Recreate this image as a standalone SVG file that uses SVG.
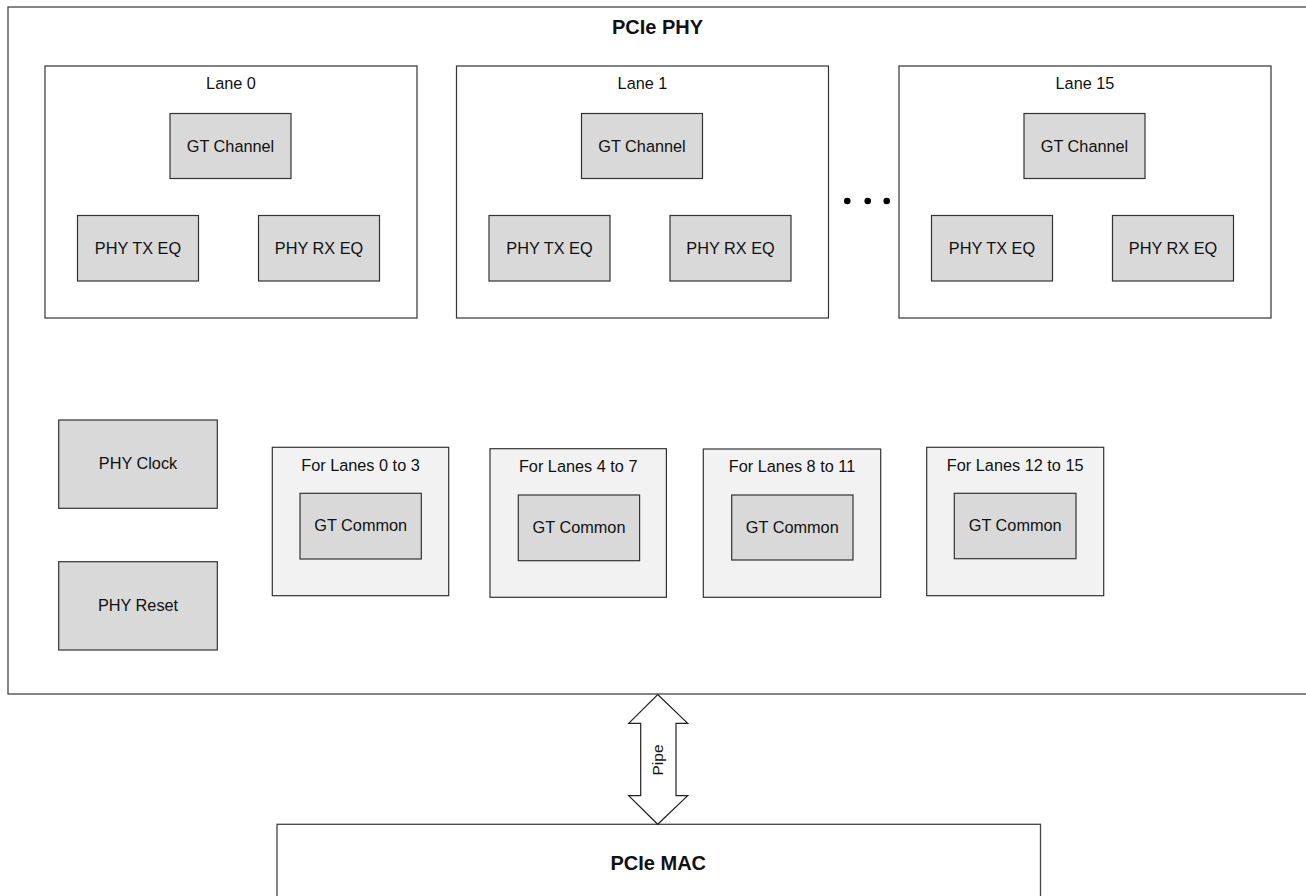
<svg xmlns="http://www.w3.org/2000/svg" width="1306" height="896" viewBox="0 0 1306 896">
<style>
  .outer { fill: #ffffff; stroke: #444444; stroke-width: 1.3; }
  .lane { fill: #ffffff; stroke: #333333; stroke-width: 1.2; }
  .blk { fill: #d9d9d9; stroke: #333333; stroke-width: 1.2; }
  .grp { fill: #f2f2f2; stroke: #333333; stroke-width: 1.2; }
  text { font-family: "Liberation Sans", Arial, sans-serif; fill: #111111; }
  .lbl { font-size: 16.3px; text-anchor: middle; }
  .ttl { font-size: 20px; font-weight: bold; text-anchor: middle; }
  .dot { fill: #000000; }
  .arrow { fill: #ffffff; stroke: #222222; stroke-width: 1.2; stroke-linejoin: miter; }
</style>

<g id="pcie_phy">
  <rect class="outer" x="8" y="7" width="1310" height="687"/>
  <text class="ttl" x="657.5" y="34">PCIe PHY</text>
</g>

<g id="lane0">
  <rect class="lane" x="45" y="66" width="372" height="252"/>
  <text class="lbl" x="231" y="89">Lane 0</text>
</g>
<g id="lane0_gtch">
  <rect class="blk" x="170" y="113.5" width="121" height="65"/>
  <text class="lbl" x="230.5" y="151.5">GT Channel</text>
</g>
<g id="lane0_tx">
  <rect class="blk" x="77.5" y="215.5" width="121" height="65.5"/>
  <text class="lbl" x="138" y="253.5">PHY TX EQ</text>
</g>
<g id="lane0_rx">
  <rect class="blk" x="258.5" y="215.5" width="121" height="65.5"/>
  <text class="lbl" x="319" y="253.5">PHY RX EQ</text>
</g>

<g id="lane1">
  <rect class="lane" x="456.5" y="66" width="372" height="252"/>
  <text class="lbl" x="642.5" y="89">Lane 1</text>
</g>
<g id="lane1_gtch">
  <rect class="blk" x="581.5" y="113.5" width="121" height="65"/>
  <text class="lbl" x="642" y="151.5">GT Channel</text>
</g>
<g id="lane1_tx">
  <rect class="blk" x="489" y="215.5" width="121" height="65.5"/>
  <text class="lbl" x="549.5" y="253.5">PHY TX EQ</text>
</g>
<g id="lane1_rx">
  <rect class="blk" x="670" y="215.5" width="121" height="65.5"/>
  <text class="lbl" x="730.5" y="253.5">PHY RX EQ</text>
</g>

<g id="ellipsis">
  <circle class="dot" cx="847.3" cy="201" r="3.3"/>
  <circle class="dot" cx="867.7" cy="201" r="3.3"/>
  <circle class="dot" cx="886.7" cy="201" r="3.3"/>
</g>

<g id="lane15">
  <rect class="lane" x="899" y="66" width="372" height="252"/>
  <text class="lbl" x="1085" y="89">Lane 15</text>
</g>
<g id="lane15_gtch">
  <rect class="blk" x="1024" y="113.5" width="121" height="65"/>
  <text class="lbl" x="1084.5" y="151.5">GT Channel</text>
</g>
<g id="lane15_tx">
  <rect class="blk" x="931.5" y="215.5" width="121" height="65.5"/>
  <text class="lbl" x="992" y="253.5">PHY TX EQ</text>
</g>
<g id="lane15_rx">
  <rect class="blk" x="1112.5" y="215.5" width="121" height="65.5"/>
  <text class="lbl" x="1173" y="253.5">PHY RX EQ</text>
</g>

<g id="phy_clock">
  <rect class="blk" x="58.7" y="420" width="158.6" height="88.3"/>
  <text class="lbl" x="138" y="469">PHY Clock</text>
</g>
<g id="phy_reset">
  <rect class="blk" x="58.7" y="561.7" width="158.6" height="88.3"/>
  <text class="lbl" x="138" y="610.7">PHY Reset</text>
</g>

<g id="grp0">
  <rect class="grp" x="272.3" y="447.3" width="176.4" height="148.4"/>
  <text class="lbl" x="360.5" y="470.7">For Lanes 0 to 3</text>
</g>
<g id="grp0_gtc">
  <rect class="blk" x="300" y="493.3" width="121.3" height="65.7"/>
  <text class="lbl" x="360.7" y="531.3">GT Common</text>
</g>

<g id="grp1">
  <rect class="grp" x="490" y="448.7" width="176.4" height="148.6"/>
  <text class="lbl" x="578.2" y="472">For Lanes 4 to 7</text>
</g>
<g id="grp1_gtc">
  <rect class="blk" x="518.3" y="495" width="121.3" height="65.7"/>
  <text class="lbl" x="579" y="533">GT Common</text>
</g>

<g id="grp2">
  <rect class="grp" x="703.3" y="449" width="177.4" height="148.3"/>
  <text class="lbl" x="792" y="472.3">For Lanes 8 to 11</text>
</g>
<g id="grp2_gtc">
  <rect class="blk" x="731.7" y="495" width="121.3" height="65"/>
  <text class="lbl" x="792.3" y="533.3">GT Common</text>
</g>

<g id="grp3">
  <rect class="grp" x="926.7" y="447.3" width="177" height="148.4"/>
  <text class="lbl" x="1015.2" y="470.7">For Lanes 12 to 15</text>
</g>
<g id="grp3_gtc">
  <rect class="blk" x="954.3" y="493.3" width="121.7" height="65.4"/>
  <text class="lbl" x="1015.2" y="531">GT Common</text>
</g>

<g id="pcie_mac">
  <rect class="outer" x="277" y="824.3" width="763.5" height="90"/>
  <text class="ttl" x="658.3" y="870">PCIe MAC</text>
</g>

<g id="connectors">
  <path class="arrow" d="M657.7,694.5 L687.7,723.3 L676,723.3 L676,795.7 L687.7,795.7 L657.7,824.3 L628.7,795.7 L640.7,795.7 L640.7,723.3 L628.7,723.3 Z"/>
  <text class="lbl" style="font-size:15.5px" transform="translate(662.5,760) rotate(-90)">Pipe</text>
</g>
</svg>
